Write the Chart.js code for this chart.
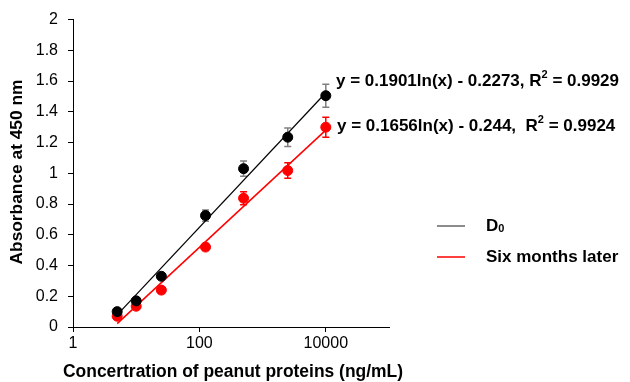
<!DOCTYPE html>
<html>
<head>
<meta charset="utf-8">
<script src="https://cdn.jsdelivr.net/npm/chart.js@4/dist/chart.umd.min.js"></script>
<style>
  html, body { margin: 0; padding: 0; background: #fff; }
  #wrap { width: 630px; height: 382px; }
</style>
</head>
<body>
<div id="wrap"><canvas id="canvas" width="630" height="382"></canvas></div>
<script>
// concentrations (ng/mL) on the log X-axis
let conc = [5, 10, 25, 125, 500, 2500, 10000];
// absorbance values
let d0 = [0.10, 0.17, 0.33, 0.725, 1.03, 1.235, 1.505];
let d0Err = [0.015, 0.015, 0.015, 0.037, 0.05, 0.06, 0.075];
let later = [0.07, 0.135, 0.24, 0.52, 0.838, 1.018, 1.30];
let laterErr = [0.012, 0.015, 0.012, 0.02, 0.042, 0.05, 0.065];
// fitted lines, end points
let trendX = [5, 10000];
let trendD0 = [0.079, 1.524];
let trendLater = [0.022, 1.281];
let eqLabels = ['y = 0.1901ln(x) - 0.2273, R', 'y = 0.1656ln(x) - 0.244,  R'];
let eqR2 = [' = 0.9929', ' = 0.9924'];
let legendNames = ['D', 'Six months later'];
let xTicks = [1, 100, 10000];
let xTitle = 'Concertration of peanut proteins (ng/mL)';
let yTitle = 'Absorbance at 450 nm';

let canvas = document.getElementById('canvas');
let FONT = '"Liberation Sans", Arial, sans-serif';

function pts(xs, ys) {
    return xs.map((x, i) => ({ x: x, y: ys[i] }));
}

// error bars, drawn behind the markers
let errorBars = {
    id: 'errorBars',
    beforeDatasetsDraw(chart) {
        let ctx = chart.ctx;
        let xs = chart.scales.x, ys = chart.scales.y;
        [[d0, d0Err, '#808080'], [later, laterErr, '#ff0000']].forEach(([vals, errs, col]) => {
            ctx.save();
            ctx.strokeStyle = col;
            ctx.lineWidth = 1.5;
            vals.forEach((v, i) => {
                let px = xs.getPixelForValue(conc[i]);
                let top = ys.getPixelForValue(v + errs[i]);
                let bot = ys.getPixelForValue(v - errs[i]);
                ctx.beginPath();
                ctx.moveTo(px, top); ctx.lineTo(px, bot);
                ctx.moveTo(px - 3.5, top); ctx.lineTo(px + 3.5, top);
                ctx.moveTo(px - 3.5, bot); ctx.lineTo(px + 3.5, bot);
                ctx.stroke();
            });
            ctx.restore();
        });
    }
};

// text drawn to a given width
function fitText(ctx, text, cx, cy, width) {
    ctx.font = 'bold 17px ' + FONT;
    let size = 17 * width / ctx.measureText(text).width;
    ctx.font = 'bold ' + size.toFixed(2) + 'px ' + FONT;
    ctx.textAlign = 'center';
    ctx.fillText(text, cx, cy);
    ctx.textAlign = 'left';
}

// axis titles, equations and legend
let labels = {
    id: 'labels',
    afterDraw(chart) {
        let ctx = chart.ctx;
        ctx.save();
        ctx.fillStyle = '#000';
        ctx.textBaseline = 'middle';

        fitText(ctx, xTitle, 233, 372, 340);
        ctx.save();
        ctx.translate(17, 172);
        ctx.rotate(-Math.PI / 2);
        fitText(ctx, yTitle, 0, 0, 185);
        ctx.restore();

        let eqPos = [[336, 81], [337, 126]];
        eqLabels.forEach((t, i) => {
            let [x, y] = eqPos[i];
            ctx.font = 'bold 17px ' + FONT;
            ctx.fillText(t, x, y);
            let w = ctx.measureText(t).width;
            ctx.font = 'bold 11px ' + FONT;
            ctx.fillText('2', x + w, y - 6);
            let w2 = ctx.measureText('2').width;
            ctx.font = 'bold 17px ' + FONT;
            ctx.fillText(eqR2[i], x + w + w2, y);
        });

        let legCols = ['#666666', '#ff0000'];
        let legY = [226, 257];
        legendNames.forEach((name, i) => {
            ctx.strokeStyle = legCols[i];
            ctx.lineWidth = 1.5;
            ctx.beginPath();
            ctx.moveTo(437, legY[i]); ctx.lineTo(465, legY[i]);
            ctx.stroke();
            ctx.font = 'bold 17px ' + FONT;
            ctx.fillText(name, 486, legY[i]);
            if (i === 0) {
                let w = ctx.measureText(name).width;
                ctx.font = 'bold 11px ' + FONT;
                ctx.fillText('0', 486 + w, legY[i] + 3);
            }
        });
        ctx.restore();
    }
};

new Chart(canvas, {
    type: 'scatter',
    data: {
        datasets: [{
            label: 'D0',
            data: pts(conc, d0),
            backgroundColor: '#000',
            borderColor: '#000',
            pointRadius: 5,
            order: 1
        }, {
            label: 'Six months later',
            data: pts(conc, later),
            backgroundColor: '#ff0000',
            borderColor: '#ff0000',
            pointRadius: 5,
            order: 1
        }, {
            type: 'line',
            data: pts(trendX, trendD0),
            borderColor: '#000',
            borderWidth: 1.2,
            pointRadius: 0,
            fill: false,
            order: 2
        }, {
            type: 'line',
            data: pts(trendX, trendLater),
            borderColor: '#ff0000',
            borderWidth: 1.5,
            pointRadius: 0,
            fill: false,
            order: 2
        }]
    },
    options: {
        responsive: false,
        animation: false,
        layout: { padding: { top: 19, right: 241, left: 0, bottom: 0 } },
        plugins: {
            legend: { display: false },
            tooltip: { enabled: false }
        },
        scales: {
            x: {
                type: 'logarithmic',
                min: 1,
                max: 100000,
                afterBuildTicks: (s) => { s.ticks = xTicks.map(v => ({ value: v })); },
                afterFit: (s) => { s.height = 55; },
                ticks: {
                    callback: (v) => String(v),
                    color: '#000',
                    font: { family: FONT, size: 16 },
                    maxRotation: 0,
                    padding: 2
                },
                grid: { drawOnChartArea: false, drawTicks: true, tickLength: 5, color: '#000' },
                border: { display: true, color: '#000', width: 1 }
            },
            y: {
                min: 0,
                max: 2,
                afterFit: (s) => { s.width = 73; },
                ticks: {
                    stepSize: 0.2,
                    callback: (v) => String(Number(v.toFixed(1))),
                    color: '#000',
                    font: { family: FONT, size: 16 },
                    padding: 10
                },
                grid: { drawOnChartArea: false, drawTicks: true, tickLength: 5, color: '#000' },
                border: { display: true, color: '#000', width: 1 }
            }
        }
    },
    plugins: [errorBars, labels]
});
</script>
</body>
</html>
